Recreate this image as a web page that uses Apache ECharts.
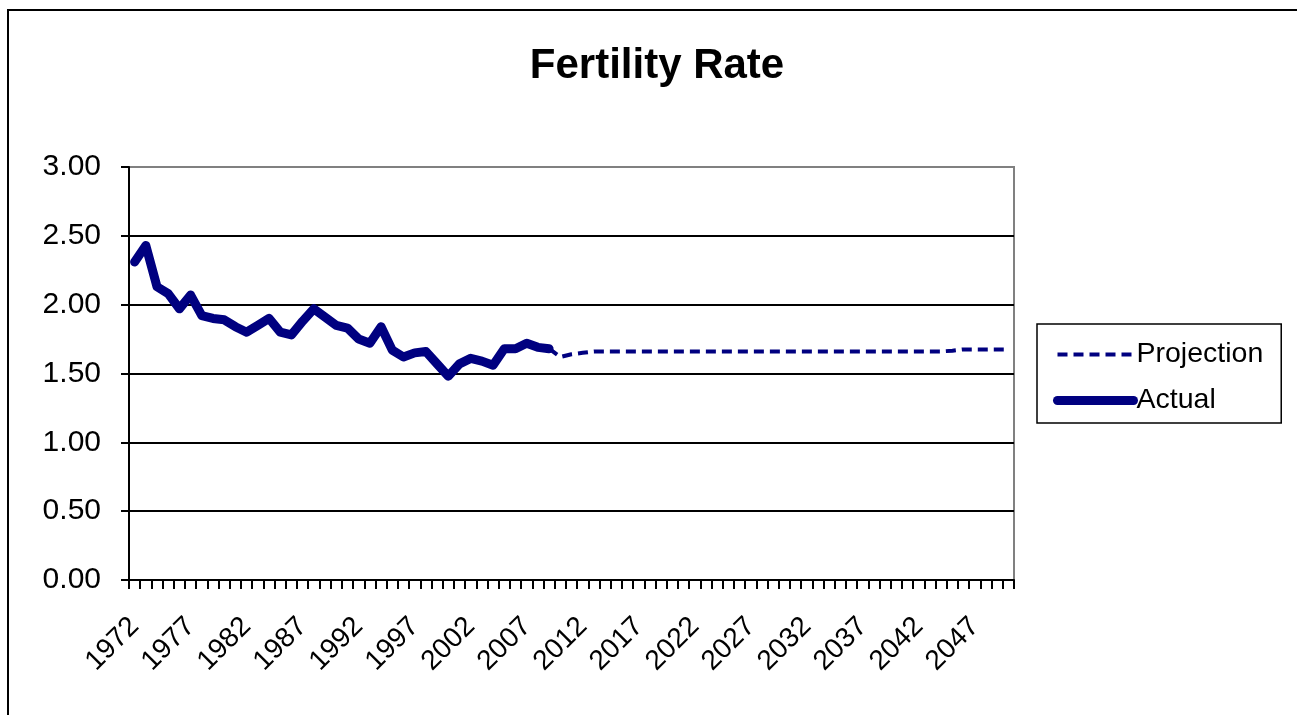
<!DOCTYPE html>
<html>
<head>
<meta charset="utf-8">
<title>Fertility Rate</title>
<script src="https://cdn.jsdelivr.net/npm/echarts@6/dist/echarts.min.js"></script>
<style>
  html, body { margin: 0; padding: 0; background: #fff; }
  #chart { width: 1297px; height: 715px; }
</style>
</head>
<body>
<div id="chart"></div>
<script>
// Years on the category axis
const years = [
  '1972','1973','1974','1975','1976','1977','1978','1979','1980','1981',
  '1982','1983','1984','1985','1986','1987','1988','1989','1990','1991',
  '1992','1993','1994','1995','1996','1997','1998','1999','2000','2001',
  '2002','2003','2004','2005','2006','2007','2008','2009','2010','2011',
  '2012','2013','2014','2015','2016','2017','2018','2019','2020','2021',
  '2022','2023','2024','2025','2026','2027','2028','2029','2030','2031',
  '2032','2033','2034','2035','2036','2037','2038','2039','2040','2041',
  '2042','2043','2044','2045','2046','2047','2048','2049','2050'
];

// Recorded fertility rate, 1972-2009
const actual = [
  2.31, 2.43, 2.13, 2.08, 1.97, 2.07, 1.92, 1.90, 1.89, 1.84,
  1.80, 1.85, 1.90, 1.80, 1.78, 1.88, 1.97, 1.91, 1.85, 1.83,
  1.75, 1.72, 1.84, 1.67, 1.62, 1.65, 1.66, 1.57, 1.48, 1.57,
  1.61, 1.59, 1.56, 1.68, 1.68, 1.72, 1.69, 1.68
];

// Projected fertility rate, 2009-2050
const projection = [
  1.68, 1.62, 1.64, 1.65, 1.66, 1.66, 1.66, 1.66, 1.66, 1.66,
  1.66, 1.66, 1.66, 1.66, 1.66, 1.66, 1.66, 1.66, 1.66, 1.66,
  1.66, 1.66, 1.66, 1.66, 1.66, 1.66, 1.66, 1.66, 1.66, 1.66,
  1.66, 1.66, 1.66, 1.66, 1.66, 1.66, 1.666, 1.675, 1.675, 1.675,
  1.675, 1.675
];

// Y-axis range
const yMin = 0, yMax = 3, yStep = 0.5;

// Align each series onto the full year axis
const actualSeries = years.map((y, i) => (i < actual.length ? actual[i] : null));
const projStart = years.indexOf('2009');
const projectionSeries = years.map((y, i) => (i >= projStart ? projection[i - projStart] : null));

const FONT = '"Liberation Sans", Arial, sans-serif';
const NAVY = '#000080';

const chart = echarts.init(document.getElementById('chart'), null, { renderer: 'canvas' });

chart.setOption({
  animation: false,
  backgroundColor: '#ffffff',
  textStyle: { fontFamily: FONT },
  graphic: [
    {
      type: 'rect',
      shape: { x: 8, y: 10, width: 1320, height: 740 },
      style: { fill: 'none', stroke: '#000', lineWidth: 2 },
      z: -1
    },
    {
      type: 'text',
      x: 657,
      y: 66,
      style: {
        text: 'Fertility Rate',
        font: 'bold 42px "Liberation Sans", Arial, sans-serif',
        fill: '#000',
        align: 'center',
        verticalAlign: 'middle'
      }
    }
  ],
  legend: {
    orient: 'vertical',
    left: 1037,
    top: 324,
    padding: [16, 18, 8, 16],
    borderColor: '#000',
    borderWidth: 1.5,
    itemWidth: 76,
    itemHeight: 30,
    itemGap: 17,
    itemStyle: { opacity: 0, borderWidth: 0 },
    textStyle: { fontSize: 28.5, fontFamily: FONT, color: '#000', padding: [0, 0, 0, -2] },
    data: [
      { name: 'Projection', lineStyle: { width: 4, type: [10, 6], cap: 'butt' } },
      { name: 'Actual', lineStyle: { width: 9, type: 'solid', cap: 'round' } }
    ]
  },
  grid: {
    left: 129,
    right: 283,
    top: 167,
    bottom: 135,
    show: true,
    borderColor: '#808080',
    borderWidth: 2
  },
  xAxis: {
    type: 'category',
    data: years,
    boundaryGap: true,
    axisLine: { lineStyle: { color: '#000', width: 2 } },
    axisTick: { show: true, interval: 0, length: 9, lineStyle: { color: '#000', width: 2 } },
    axisLabel: {
      interval: 4,
      rotate: 45,
      margin: 42,
      fontSize: 28,
      color: '#000',
      fontFamily: FONT
    },
    splitLine: { show: false }
  },
  yAxis: {
    type: 'value',
    min: yMin,
    max: yMax,
    interval: yStep,
    axisLine: { show: true, lineStyle: { color: '#000', width: 2 } },
    axisTick: { show: true, length: 8, lineStyle: { color: '#000', width: 2 } },
    axisLabel: {
      margin: 28,
      fontSize: 30,
      color: '#000',
      fontFamily: FONT,
      padding: [4, 0, 0, 0],
      formatter: v => v.toFixed(2)
    },
    splitLine: { show: true, showMaxLine: false, lineStyle: { color: '#000', width: 2 } }
  },
  series: [
    {
      name: 'Projection',
      type: 'line',
      data: projectionSeries,
      symbol: 'none',
      connectNulls: false,
      lineStyle: { color: NAVY, width: 4, type: [10, 6], cap: 'butt', join: 'round' },
      itemStyle: { color: NAVY },
      z: 3
    },
    {
      name: 'Actual',
      type: 'line',
      data: actualSeries,
      symbol: 'none',
      connectNulls: false,
      lineStyle: { color: NAVY, width: 9, cap: 'round', join: 'round' },
      itemStyle: { color: NAVY },
      z: 4
    }
  ]
});
</script>
</body>
</html>
